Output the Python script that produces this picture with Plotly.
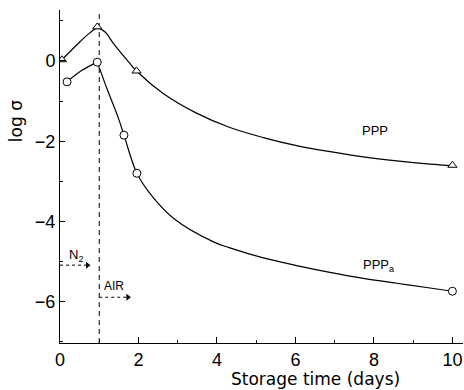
import plotly.graph_objects as go

# Measured data points
ppp_x = [0.05, 0.95, 1.95, 10.0]
ppp_y = [0.03, 0.85, -0.25, -2.6]
pppa_x = [0.18, 0.95, 1.63, 1.96, 10.0]
pppa_y = [-0.52, -0.03, -1.85, -2.8, -5.74]

# Smooth fitted curves
ppp_curve_x = [0.05, 0.51, 0.76, 0.95, 1.15, 1.36, 1.78, 1.95, 2.63, 3.48, 4.33, 5.18, 6.03, 6.88, 7.73, 8.58, 9.43, 10.0]
ppp_curve_y = [0.03, 0.48, 0.70, 0.82, 0.72, 0.44, -0.06, -0.25, -0.81, -1.30, -1.66, -1.91, -2.11, -2.26, -2.39, -2.49, -2.57, -2.61]
pppa_curve_x = [0.18, 0.55, 0.95]
pppa_curve_y = [-0.52, -0.24, -0.03]
pppa_curve2_x = [0.95, 1.2, 1.49, 1.63, 1.96, 2.29, 2.89, 3.91, 4.33, 5.18, 6.03, 6.88, 7.73, 8.58, 9.43, 10.0]
pppa_curve2_y = [-0.03, -0.7, -1.43, -1.85, -2.8, -3.3, -3.92, -4.51, -4.66, -4.91, -5.10, -5.27, -5.42, -5.54, -5.66, -5.74]

# atmosphere arrows
n2_x = [0.0, 0.7]
n2_y = [-5.09, -5.09]
air_x = [1.0, 1.73]
air_y = [-5.89, -5.89]

x_ticks = [0, 2, 4, 6, 8, 10]
y_ticks = [-6, -4, -2, 0]
y_tick_text = ["\u22126", "\u22124", "\u22122", "0"]

FONT = "Liberation Sans Narrow, Liberation Sans, Arial, sans-serif"
TFONT = "DejaVu Sans"
fig = go.Figure()

line = dict(color="black", width=1.2)
fig.add_trace(go.Scatter(x=ppp_curve_x, y=ppp_curve_y, mode="lines", line=dict(shape="spline", smoothing=1.0, **line), showlegend=False, hoverinfo="skip"))
fig.add_trace(go.Scatter(x=pppa_curve_x, y=pppa_curve_y, mode="lines", line=dict(shape="spline", **line), showlegend=False, hoverinfo="skip"))
fig.add_trace(go.Scatter(x=pppa_curve2_x, y=pppa_curve2_y, mode="lines", line=dict(shape="spline", smoothing=1.0, **line), showlegend=False, hoverinfo="skip"))
fig.add_trace(go.Scatter(x=ppp_x, y=ppp_y, mode="markers", marker=dict(symbol="triangle-up", size=8, color="white", line=dict(color="black", width=1)), showlegend=False))
fig.add_trace(go.Scatter(x=pppa_x, y=pppa_y, mode="markers", marker=dict(symbol="circle", size=8, color="white", line=dict(color="black", width=1)), showlegend=False))

for ax_, ay_ in [(n2_x, n2_y), (air_x, air_y)]:
    fig.add_trace(go.Scatter(x=ax_, y=ay_, mode="lines", line=dict(color="black", width=1, dash="dot"),
                             showlegend=False, hoverinfo="skip"))
    fig.add_trace(go.Scatter(x=ax_[-1:], y=ay_[-1:], mode="markers",
                             marker=dict(symbol="triangle-right", size=6, color="black", line=dict(width=0)),
                             showlegend=False, hoverinfo="skip"))

# vertical dashed line at day 1
fig.add_shape(type="line", x0=1, x1=1, y0=-7.03, y1=1.3, line=dict(color="black", width=1, dash="5px,4px"), layer="below")

tf = dict(family=FONT, size=13, color="black")
fig.add_annotation(x=0.42, y=-4.86, text="N<sub>2</sub>", showarrow=False, font=tf)
fig.add_annotation(x=1.37, y=-5.6, text="AIR", showarrow=False, font=dict(family=FONT, size=12, color="black"))
fig.add_annotation(x=8.03, y=-1.73, text="PPP", showarrow=False, font=tf)
fig.add_annotation(x=8.13, y=-5.1, text="PPP<sub>a</sub>", showarrow=False, font=tf)
fig.add_annotation(x=0, y=-1.5, xref="x domain", yref="y", xshift=-44, xanchor="center", yanchor="middle",
                   text="log \u03c3", textangle=-90, showarrow=False, font=dict(family=TFONT, size=17, color="black"))
fig.add_annotation(x=6.52, y=0, xref="x", yref="y domain", yshift=-36, xanchor="center", yanchor="middle",
                   text="Storage time (days)", showarrow=False, font=dict(family=TFONT, size=17, color="black"))

fig.update_layout(
    width=464, height=390,
    margin=dict(l=60, r=1, t=10, b=47),
    plot_bgcolor="white", paper_bgcolor="white",
    font=dict(family=FONT, size=14, color="black"),
    xaxis=dict(range=[0, 10.27], tickvals=x_ticks, ticks="inside", ticklen=6, tickwidth=1, tickcolor="black",
               showline=True, linecolor="black", linewidth=1, showgrid=False, zeroline=False,
               minor=dict(dtick=1, tick0=0, ticks="inside", ticklen=3, tickcolor="black", showgrid=False),
               tickfont=dict(size=18)),
    yaxis=dict(range=[-7.03, 1.27], tickvals=y_ticks, ticktext=y_tick_text, ticks="inside", ticklen=5, tickwidth=1, tickcolor="black",
               showline=True, linecolor="black", linewidth=1, showgrid=False, zeroline=False,
               minor=dict(dtick=1, tick0=1, ticks="inside", ticklen=3, tickcolor="black", showgrid=False),
               tickfont=dict(size=18)),
)

fig.write_html("out.html")
